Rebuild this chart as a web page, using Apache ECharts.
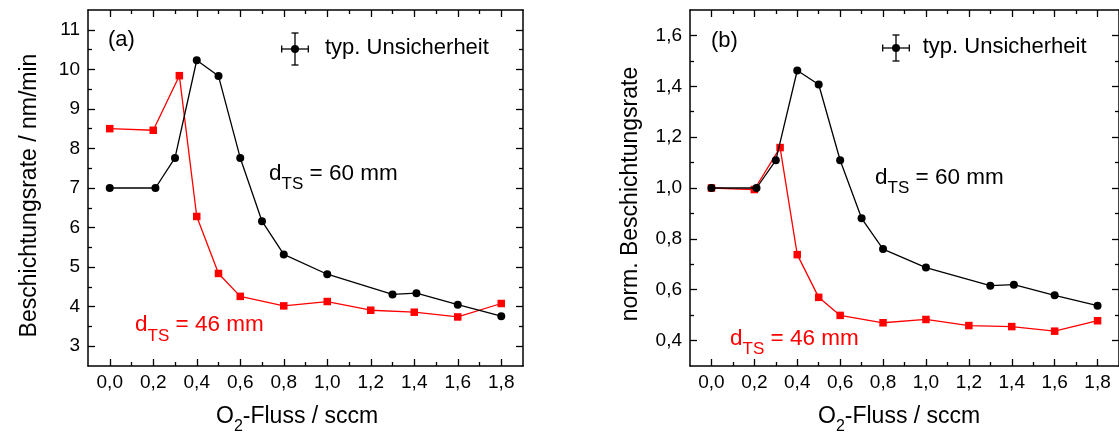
<!DOCTYPE html>
<html><head><meta charset="utf-8">
<script src="https://cdn.jsdelivr.net/npm/echarts@6/dist/echarts.min.js"></script>
<style>html,body{margin:0;padding:0;background:#fff}#c{width:1119px;height:435px}</style>
</head><body><div id="c"></div>
<script>
// ---------------- data ----------------
const xBlack = [0, 0.21, 0.3, 0.4, 0.5, 0.6, 0.7, 0.8, 1.0, 1.3, 1.41, 1.6, 1.8];
const yBlackA = [7.0, 7.0, 7.76, 10.23, 9.83, 7.76, 6.16, 5.32, 4.82, 4.31, 4.34, 4.05, 3.76];
const yBlackB = [1.0, 1.0, 1.109, 1.462, 1.407, 1.109, 0.881, 0.760, 0.687, 0.616, 0.620, 0.578, 0.537];
const xRed = [0, 0.2, 0.32, 0.4, 0.5, 0.6, 0.8, 1.0, 1.2, 1.4, 1.6, 1.8];
const yRedA = [8.50, 8.46, 9.84, 6.28, 4.84, 4.26, 4.02, 4.13, 3.91, 3.86, 3.74, 4.08];
const yRedB = [1.0, 0.994, 1.159, 0.738, 0.570, 0.499, 0.470, 0.483, 0.459, 0.455, 0.437, 0.478];

const xTickValues = [0, 0.2, 0.4, 0.6, 0.8, 1.0, 1.2, 1.4, 1.6, 1.8];
const xTickLabels = ['0,0', '0,2', '0,4', '0,6', '0,8', '1,0', '1,2', '1,4', '1,6', '1,8'];
const xMinorValues = [0.1, 0.3, 0.5, 0.7, 0.9, 1.1, 1.3, 1.5, 1.7];
const yTickValuesA = [3, 4, 5, 6, 7, 8, 9, 10, 11];
const yTickLabelsA = ['3', '4', '5', '6', '7', '8', '9', '10', '11'];
const yMinorValuesA = [3.5, 4.5, 5.5, 6.5, 7.5, 8.5, 9.5, 10.5];
const yTickValuesB = [0.4, 0.6, 0.8, 1.0, 1.2, 1.4, 1.6];
const yTickLabelsB = ['0,4', '0,6', '0,8', '1,0', '1,2', '1,4', '1,6'];
const yMinorValuesB = [0.5, 0.7, 0.9, 1.1, 1.3, 1.5];

const panelLabels = ['(a)', '(b)'];
const legendText = 'typ. Unsicherheit';
const yTitles = ['Beschichtungsrate / nm/min', 'norm. Beschichtungsrate'];
const xTitle = ['O', '2', '-Fluss / sccm'];
const label60 = ['d', 'TS', ' = 60 mm'];
const label46 = ['d', 'TS', ' = 46 mm'];

// ---------------- helpers ----------------
const FONT = '"Liberation Sans", Arial, Helvetica, sans-serif';
const cv = document.createElement('canvas').getContext('2d');
function tw(t, s) { cv.font = s + 'px ' + FONT; return cv.measureText(t).width; }
function pair(xs, ys) { return xs.map((x, i) => [x, ys[i]]); }
function lookup(vals, labs) {
  return v => { let b = 0; for (let i = 0; i < vals.length; i++) if (Math.abs(vals[i] - v) < Math.abs(vals[b] - v)) b = i; return labs[b]; };
}

function axisSet(dim, grid, min, max, majors, minors, labels, vals) {
  const ls = { color: '#000', width: 1.3 };
  const pos = dim === 'x' ? ['bottom', 'top'] : ['left', 'right'];
  const out = [];
  pos.forEach((p, pi) => {
    out.push({
      type: 'value', gridIndex: grid, min, max, position: p,
      splitLine: { show: false },
      axisLine: { show: true, onZero: false, lineStyle: { color: '#000', width: 1.5 } },
      axisTick: { show: true, inside: true, length: 7, lineStyle: ls, customValues: majors },
      axisLabel: pi === 0 ? {
        show: true, customValues: majors, formatter: lookup(vals, labels),
        fontSize: 19, color: '#000', fontFamily: FONT, margin: dim === 'x' ? 7 : 8
      } : { show: false }
    });
    out.push({
      type: 'value', gridIndex: grid, min, max, position: p,
      splitLine: { show: false },
      axisLine: { show: false, onZero: false },
      axisTick: { show: true, inside: true, length: 4, lineStyle: ls, customValues: minors },
      axisLabel: { show: false }
    });
  });
  return out;
}

function txt(x, y, t, size, color, extra) {
  return Object.assign({
    type: 'text', x, y, z: 50,
    style: { text: t, fontSize: size, fontFamily: FONT, fill: color, align: 'left', verticalAlign: 'middle' }
  }, extra || {});
}

// text with subscript: parts [main, sub, main]; baseline given
function subLabel(x, base, parts, size, subSize, subDrop, color) {
  const els = [];
  let cx = x;
  parts.forEach((p, i) => {
    const isSub = i === 1;
    const s = isSub ? subSize : size;
    const b = base + (isSub ? subDrop : 0);
    els.push(txt(cx, b - 0.35 * s, p, s, color));
    cx += tw(p, s);
  });
  return els;
}

function errMarker(cx, cy, hw, hh) {
  const st = { stroke: '#000', lineWidth: 1.3 };
  const cap = 3.5;
  return [
    { type: 'line', z: 50, shape: { x1: cx - hw, y1: cy, x2: cx + hw, y2: cy }, style: st },
    { type: 'line', z: 50, shape: { x1: cx - hw, y1: cy - cap, x2: cx - hw, y2: cy + cap }, style: st },
    { type: 'line', z: 50, shape: { x1: cx + hw, y1: cy - cap, x2: cx + hw, y2: cy + cap }, style: st },
    { type: 'line', z: 50, shape: { x1: cx, y1: cy - hh, x2: cx, y2: cy + hh }, style: st },
    { type: 'line', z: 50, shape: { x1: cx - cap, y1: cy - hh, x2: cx + cap, y2: cy - hh }, style: st },
    { type: 'line', z: 50, shape: { x1: cx - cap, y1: cy + hh, x2: cx + cap, y2: cy + hh }, style: st },
    { type: 'circle', z: 51, shape: { cx, cy, r: 4 }, style: { fill: '#000' } }
  ];
}

// ---------------- option ----------------
const grids = [
  { left: 88, top: 10, width: 435, height: 356 },
  { left: 690, top: 10, width: 434, height: 356 }
];
const xAxes = [].concat(
  axisSet('x', 0, -0.1, 1.9, xTickValues, xMinorValues, xTickLabels, xTickValues),
  axisSet('x', 1, -0.1, 1.9, xTickValues, xMinorValues, xTickLabels, xTickValues)
);
const yAxes = [].concat(
  axisSet('y', 0, 2.5, 11.5, yTickValuesA, yMinorValuesA, yTickLabelsA, yTickValuesA),
  axisSet('y', 1, 0.3, 1.7, yTickValuesB, yMinorValuesB, yTickLabelsB, yTickValuesB)
);

function lineSeries(xi, yi, data, color, symbol, size, z) {
  return {
    type: 'line', xAxisIndex: xi, yAxisIndex: yi, data, z,
    symbol, symbolSize: size, showSymbol: true,
    lineStyle: { color, width: 1.3 }, itemStyle: { color },
    animation: false, clip: false
  };
}

const series = [
  lineSeries(0, 0, pair(xRed, yRedA), '#ff0000', 'rect', 7.5, 2),
  lineSeries(0, 0, pair(xBlack, yBlackA), '#000000', 'circle', 8, 3),
  lineSeries(4, 4, pair(xRed, yRedB), '#ff0000', 'rect', 7.5, 2),
  lineSeries(4, 4, pair(xBlack, yBlackB), '#000000', 'circle', 8, 3)
];

let graphics = [];
graphics.push(txt(108, 40, panelLabels[0], 22, '#000'));
graphics.push(txt(711, 41.3, panelLabels[1], 22, '#000'));
graphics = graphics.concat(errMarker(295, 49, 13.3, 16));
graphics = graphics.concat(errMarker(896, 48, 13.3, 13));
graphics.push(txt(325, 48.3, legendText, 22, '#000'));
graphics.push(txt(922.7, 47.3, legendText, 22, '#000'));
graphics = graphics.concat(subLabel(269, 181.7, label60, 22.5, 17, 9, '#000'));
graphics = graphics.concat(subLabel(875, 185.7, label60, 22.5, 17, 9, '#000'));
graphics = graphics.concat(subLabel(135, 333, label46, 22.5, 17, 9, '#ff0000'));
graphics = graphics.concat(subLabel(730, 346.7, label46, 22.5, 17, 9, '#ff0000'));
graphics = graphics.concat(subLabel(216, 425, xTitle, 23, 16, 7, '#000'));
graphics = graphics.concat(subLabel(818, 425, xTitle, 23, 16, 7, '#000'));
graphics.push(txt(30, 195.5, yTitles[0], 23, '#000', { rotation: Math.PI / 2 }));
graphics.push(txt(631, 194, yTitles[1], 23, '#000', { rotation: Math.PI / 2 }));
graphics[graphics.length - 1].style.align = 'center';
graphics[graphics.length - 2].style.align = 'center';

const chart = echarts.init(document.getElementById('c'), null, { renderer: 'canvas' });
chart.setOption({
  backgroundColor: '#fff',
  animation: false,
  grid: grids,
  xAxis: xAxes,
  yAxis: yAxes,
  series,
  graphic: { elements: graphics }
});
</script></body></html>
